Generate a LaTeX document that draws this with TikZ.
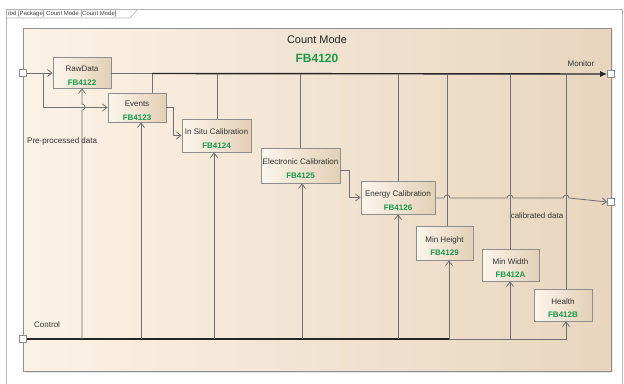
\documentclass[tikz,border=0pt]{standalone}
\usepackage{fontspec}
\setmainfont{Liberation Sans}
\usetikzlibrary{arrows.meta,shadows,calc}
\definecolor{frameline}{HTML}{B4B4B4}
\definecolor{blockline}{HTML}{8E8E8E}
\definecolor{bgleft}{HTML}{FBF2E6}
\definecolor{bgright}{HTML}{E8D5BE}
\definecolor{boxleft}{HTML}{FCF6EC}
\definecolor{boxright}{HTML}{E3CFB6}
\definecolor{idgreen}{HTML}{1B9A4B}
\definecolor{wire}{HTML}{707070}
\definecolor{bus}{HTML}{262626}
\newcommand\fblabel[2]{\rule{0pt}{12pt}#1\\[4pt]{\color{idgreen}\bfseries #2}}

\begin{document}
\begin{tikzpicture}[x=1pt,y=-1pt,
  every node/.style={font=\fontsize{8}{9.6}\selectfont, inner sep=0pt},
  fb/.style={draw=blockline, line width=0.8pt, left color=boxleft, right color=boxright,
    drop shadow={shadow xshift=1.2pt, shadow yshift=-1.2pt, opacity=0.25},
    align=center, text=black!80},
  wirel/.style={draw=wire, line width=0.8pt},
  flow/.style={wirel, -{Straight Barb[length=4.5pt,width=7pt,line width=0.8pt]}},
  busl/.style={draw=bus, line width=1.4pt},
  port/.style={draw=blockline, fill=white, minimum size=7pt, line width=0.6pt},
  lbl/.style={text=black!80}
]
\useasboundingbox (0,0) rectangle (624,383);
\fill[white] (0,0) rectangle (624,383);

% diagram frame and its name tab
\draw[frameline, line width=0.6pt] (6,390) -- (6,9) -- (622,9) -- (622,390);
\draw[frameline, line width=0.6pt] (6,18) -- (130,18) -- (138,9);
\node[anchor=west, font=\fontsize{6}{7}\selectfont, text=black!75] (tab) at (8,13.5)
  {ibd [Package] Count Mode [Count Mode]};

% the Count Mode block
\path[draw=blockline, line width=0.8pt, left color=bgleft, right color=bgright,
  drop shadow={shadow xshift=1.5pt, shadow yshift=-1.5pt, opacity=0.2}]
  (23,28) rectangle (611,371);
\node[font=\fontsize{11}{13}\selectfont, text=black!85] (title) at (317,40) {Count Mode};
\node[font=\fontsize{12}{14}\selectfont\bfseries, text=idgreen] (titleid) at (317,58) {FB4120};

% function blocks
\node[fb, minimum width=58pt, minimum height=31pt] (raw)  at (82,72.5)   {\fblabel{RawData}{FB4122}};
\node[fb, minimum width=58pt, minimum height=29pt] (evt)  at (137,107.5) {\fblabel{Events}{FB4123}};
\node[fb, minimum width=69pt, minimum height=33pt] (isc)  at (216.5,135.5) {\fblabel{In Situ Calibration}{FB4124}};
\node[fb, minimum width=79pt, minimum height=35pt] (elc)  at (300.5,165.5) {\fblabel{Electronic Calibration}{FB4125}};
\node[fb, minimum width=74pt, minimum height=33pt] (enc)  at (398,197.5) {\fblabel{Energy Calibration}{FB4126}};
\node[fb, minimum width=57pt, minimum height=34pt] (mh)   at (444.5,243) {\fblabel{Min Height}{FB4129}};
\node[fb, minimum width=57pt, minimum height=32pt] (mw)   at (510.5,265) {\fblabel{Min Width}{FB412A}};
\node[fb, minimum width=58pt, minimum height=32pt] (hl)   at (563,305)   {\fblabel{Health}{FB412B}};

% ports on the block edge
\node[port] (pin)  at (23,73)  {};
\node[port] (pctl) at (23,339) {};
\node[port] (pmon) at (611,74) {};
\node[port] (pcal) at (611,202) {};

% port labels
\node[lbl, anchor=south] (lmon) at (581,67) {Monitor};
\node[lbl] (lcal) at (537,216) {calibrated data};
\node[lbl, anchor=west] (lpre) at (27,141) {Pre-processed data};
\node[lbl, anchor=west] (lctl) at (34,325) {Control};

% input data into RawData and Events
\coordinate (split) at (43,73);
\draw[flow] (pin.east) -- (raw.west |- pin);
\draw[flow] (split) |- (evt.west);

% chain of calibrations
\draw[flow] (evt.east) -- (173,107.5) |- (isc.west);
\draw[flow] (elc.east |- 0,170) -- (349,170) |- (enc.west);

% monitor bus
\coordinate (m1) at (152,73.5);
\draw[wirel] (raw.east |- m1) -- (m1);
\draw[busl, -{Latex[length=7pt,width=6pt]}] (m1) -- (pmon.west);
\draw[wirel] (m1) -- (m1 |- evt.north);
\draw[wirel] (217,73.5) -- (217,0 |- isc.north);
\draw[wirel] (300,73.5) -- (300,0 |- elc.north);
\draw[wirel] (398,73.5) -- (398,0 |- enc.north);
\draw[wirel] (447,73.5) -- (447,0 |- mh.north);
\draw[wirel] (510,73.5) -- (510,0 |- mw.north);
\draw[wirel] (566,73.5) -- (566,0 |- hl.north);

% calibrated data out, hopping over the monitor taps
\draw[flow] (enc.east |- 0,198) -- (444,198) arc(180:360:3) -- (507,198) arc(180:360:3)
  -- (563,198) arc(180:360:3) -- (pcal.west);

% control bus
\coordinate (c1) at (449,339);
\draw[busl, line width=1.2pt] (pctl.east) -- (c1);
\draw[flow] (c1) -| (566,0 |- hl.south);
\draw[flow] (82,339) -- (82,110) arc(90:-90:3) -- (raw.south);
\draw[flow] (141,339) -- (141,0 |- evt.south);
\draw[flow] (214,339) -- (214,0 |- isc.south);
\draw[flow] (302,339) -- (302,0 |- elc.south);
\draw[flow] (398,339) -- (398,0 |- enc.south);
\draw[flow] (449,339) -- (449,0 |- mh.south);
\draw[flow] (510,339) -- (510,0 |- mw.south);
\end{tikzpicture}
\end{document}
